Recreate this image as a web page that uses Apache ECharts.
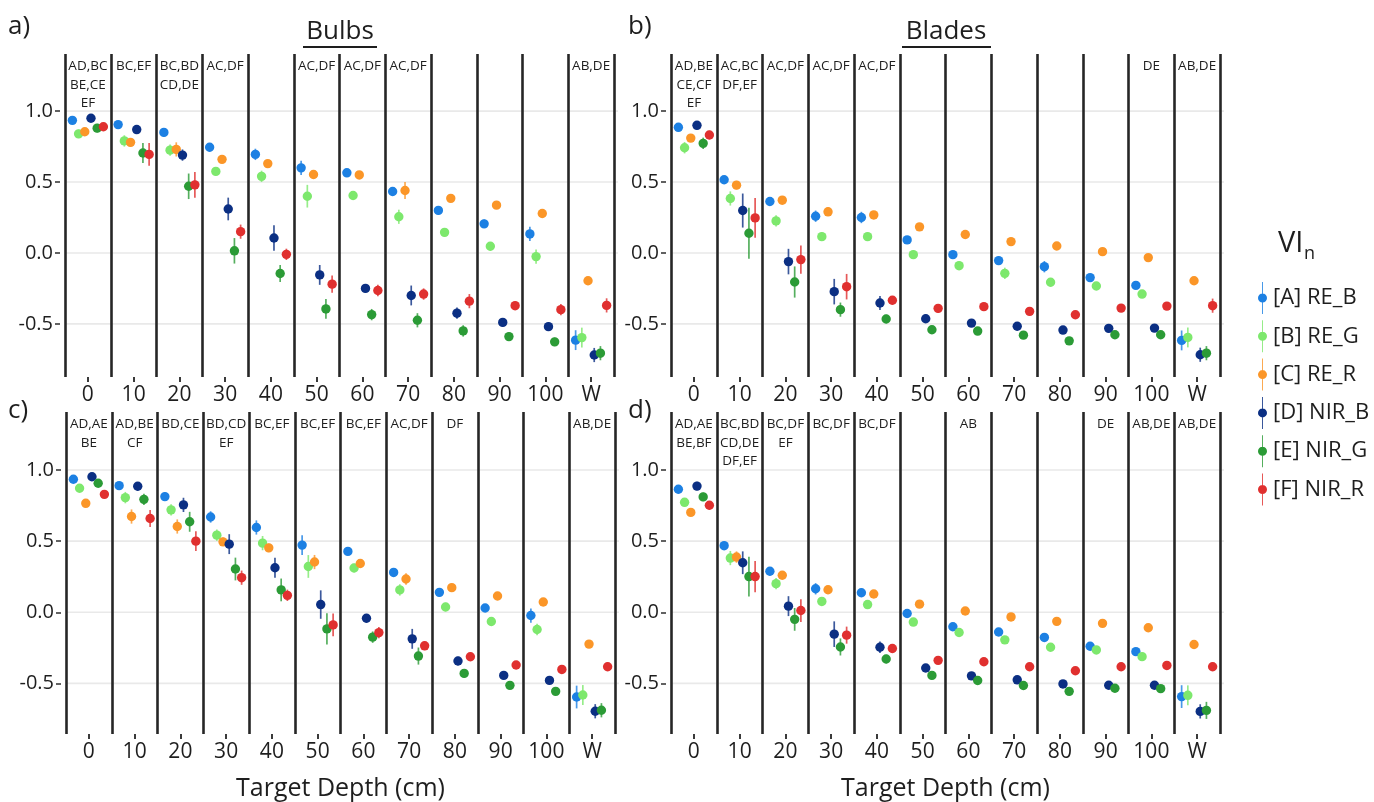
<!DOCTYPE html>
<html><head><meta charset="utf-8">
<script src="https://cdn.jsdelivr.net/npm/echarts@6/dist/echarts.min.js"></script>
<style>html,body{margin:0;padding:0;background:#fff}#c{width:1374px;height:802px}</style>
</head><body><div id="c"></div>
<script>
const depthLabels = ['0','10','20','30','40','50','60','70','80','90','100','W'];
const seriesNames = ['[A] RE_B','[B] RE_G','[C] RE_R','[D] NIR_B','[E] NIR_G','[F] NIR_R'];
const yTickValues = [-0.5, 0, 0.5, 1.0];

// a) Bulbs (top row)
const a_RE_B  = [0.935,0.905,0.85,0.745,0.695,0.60,0.565,0.433,0.30,0.205,0.134,-0.615];
const a_RE_G  = [0.84,0.79,0.725,0.575,0.54,0.40,0.405,0.255,0.145,0.047,-0.026,-0.597];
const a_RE_R  = [0.855,0.78,0.73,0.66,0.63,0.553,0.55,0.44,0.385,0.337,0.278,-0.196];
const a_NIR_B = [0.95,0.87,0.69,0.31,0.105,-0.155,-0.25,-0.30,-0.425,-0.49,-0.52,-0.72];
const a_NIR_G = [0.88,0.705,0.47,0.015,-0.145,-0.395,-0.435,-0.475,-0.55,-0.59,-0.627,-0.707];
const a_NIR_R = [0.89,0.695,0.48,0.15,-0.01,-0.22,-0.265,-0.29,-0.34,-0.372,-0.40,-0.37];
const a_err_RE_B  = [0.02,0.02,0.03,0.03,0.04,0.05,0.02,0.03,0.03,0.03,0.05,0.07];
const a_err_RE_G  = [0.03,0.04,0.04,0.03,0.04,0.08,0.03,0.05,0.03,0.03,0.05,0.07];
const a_err_RE_R  = [0.02,0.03,0.05,0.02,0.02,0.03,0.02,0.06,0.02,0.02,0.03,0.02];
const a_err_NIR_B = [0.02,0.02,0.04,0.08,0.09,0.07,0.03,0.07,0.04,0.03,0.03,0.05];
const a_err_NIR_G = [0.03,0.07,0.09,0.09,0.06,0.07,0.04,0.05,0.04,0.03,0.03,0.05];
const a_err_NIR_R = [0.02,0.08,0.09,0.05,0.04,0.06,0.04,0.04,0.05,0.03,0.04,0.05];
const a_letters = ['AD,BC\nBE,CE\nEF','BC,EF','BC,BD\nCD,DE','AC,DF','','AC,DF','AC,DF','AC,DF','','','','AB,DE'];

// b) Blades (top row)
const b_RE_B  = [0.886,0.516,0.363,0.259,0.25,0.092,-0.012,-0.054,-0.097,-0.174,-0.229,-0.617];
const b_RE_G  = [0.742,0.384,0.226,0.115,0.115,-0.012,-0.09,-0.144,-0.207,-0.233,-0.29,-0.596];
const b_RE_R  = [0.81,0.478,0.372,0.29,0.268,0.184,0.13,0.08,0.049,0.009,-0.033,-0.196];
const b_NIR_B = [0.90,0.299,-0.061,-0.273,-0.353,-0.464,-0.495,-0.517,-0.544,-0.532,-0.53,-0.718];
const b_NIR_G = [0.773,0.139,-0.205,-0.40,-0.466,-0.542,-0.551,-0.58,-0.62,-0.577,-0.577,-0.707];
const b_NIR_R = [0.832,0.247,-0.047,-0.238,-0.334,-0.391,-0.379,-0.412,-0.436,-0.389,-0.375,-0.372];
const b_err_RE_B  = [0.03,0.02,0.03,0.04,0.04,0.02,0.02,0.03,0.04,0.02,0.02,0.07];
const b_err_RE_G  = [0.04,0.05,0.04,0.03,0.03,0.03,0.03,0.04,0.03,0.02,0.02,0.07];
const b_err_RE_R  = [0.02,0.03,0.02,0.03,0.02,0.02,0.02,0.02,0.02,0.02,0.02,0.02];
const b_err_NIR_B = [0.03,0.12,0.09,0.09,0.05,0.03,0.02,0.02,0.02,0.02,0.02,0.05];
const b_err_NIR_G = [0.04,0.18,0.11,0.05,0.03,0.02,0.02,0.02,0.02,0.02,0.02,0.05];
const b_err_NIR_R = [0.03,0.14,0.10,0.09,0.03,0.03,0.02,0.03,0.02,0.02,0.02,0.05];
const b_letters = ['AD,BE\nCE,CF\nEF','AC,BC\nDF,EF','AC,DF','AC,DF','AC,DF','','','','','','DE','AB,DE'];

// c) Bulbs (bottom row)
const c_RE_B  = [0.935,0.89,0.813,0.67,0.596,0.472,0.428,0.28,0.14,0.03,-0.023,-0.596];
const c_RE_G  = [0.872,0.806,0.72,0.542,0.486,0.322,0.311,0.157,0.037,-0.065,-0.121,-0.582];
const c_RE_R  = [0.766,0.673,0.603,0.495,0.453,0.353,0.343,0.234,0.173,0.114,0.072,-0.224];
const c_NIR_B = [0.953,0.886,0.755,0.479,0.313,0.054,-0.042,-0.187,-0.343,-0.444,-0.479,-0.696];
const c_NIR_G = [0.907,0.794,0.636,0.304,0.157,-0.117,-0.175,-0.308,-0.43,-0.514,-0.556,-0.689];
const c_NIR_R = [0.829,0.659,0.5,0.243,0.119,-0.089,-0.143,-0.236,-0.313,-0.371,-0.402,-0.383];
const c_err_RE_B  = [0.02,0.02,0.03,0.04,0.05,0.07,0.02,0.02,0.03,0.02,0.05,0.08];
const c_err_RE_G  = [0.02,0.04,0.04,0.04,0.05,0.08,0.03,0.04,0.03,0.03,0.04,0.07];
const c_err_RE_R  = [0.02,0.05,0.05,0.03,0.03,0.05,0.02,0.04,0.02,0.02,0.02,0.02];
const c_err_NIR_B = [0.02,0.03,0.05,0.07,0.07,0.10,0.03,0.07,0.03,0.02,0.02,0.05];
const c_err_NIR_G = [0.02,0.04,0.07,0.08,0.08,0.11,0.04,0.06,0.03,0.02,0.02,0.05];
const c_err_NIR_R = [0.02,0.06,0.07,0.05,0.04,0.08,0.04,0.03,0.03,0.02,0.02,0.03];
const c_letters = ['AD,AE\nBE','AD,BE\nCF','BD,CE','BD,CD\nEF','BC,EF','BC,EF','BC,EF','AC,DF','DF','','','AB,DE'];

// d) Blades (bottom row)
const d_RE_B  = [0.865,0.468,0.288,0.165,0.137,-0.009,-0.102,-0.139,-0.177,-0.239,-0.277,-0.593];
const d_RE_G  = [0.773,0.381,0.201,0.076,0.054,-0.069,-0.142,-0.194,-0.246,-0.265,-0.312,-0.584];
const d_RE_R  = [0.702,0.388,0.26,0.158,0.128,0.057,0.009,-0.033,-0.064,-0.078,-0.109,-0.227];
const d_NIR_B = [0.887,0.348,0.043,-0.154,-0.246,-0.392,-0.447,-0.475,-0.504,-0.513,-0.513,-0.697];
const d_NIR_G = [0.811,0.251,-0.05,-0.244,-0.329,-0.444,-0.48,-0.515,-0.556,-0.534,-0.537,-0.69];
const d_NIR_R = [0.752,0.251,0.012,-0.161,-0.255,-0.338,-0.348,-0.383,-0.411,-0.383,-0.374,-0.383];
const d_err_RE_B  = [0.03,0.03,0.03,0.04,0.03,0.02,0.02,0.02,0.02,0.02,0.02,0.08];
const d_err_RE_G  = [0.03,0.05,0.04,0.02,0.02,0.02,0.02,0.02,0.02,0.02,0.02,0.07];
const d_err_RE_R  = [0.02,0.04,0.02,0.02,0.02,0.02,0.02,0.02,0.02,0.02,0.02,0.02];
const d_err_NIR_B = [0.03,0.08,0.07,0.09,0.04,0.02,0.02,0.02,0.02,0.02,0.02,0.05];
const d_err_NIR_G = [0.03,0.14,0.08,0.06,0.03,0.02,0.02,0.02,0.02,0.02,0.02,0.06];
const d_err_NIR_R = [0.03,0.11,0.08,0.06,0.03,0.02,0.02,0.02,0.02,0.02,0.02,0.03];
const d_letters = ['AD,AE\nBE,BF','BC,BD\nCD,DE\nDF,EF','BC,DF\nEF','BC,DF','BC,DF','','AB','','','DE','AB,DE','AB,DE'];

const colors = ['#1c80e3','#7de86d','#fb9628','#0b2f83','#2b9b36','#e0302f'];
const FONT = '"Open Sans", "Noto Sans", sans-serif';
const TXT = '#1e1e1e';

const panels = [
  {vals:[a_RE_B,a_RE_G,a_RE_R,a_NIR_B,a_NIR_G,a_NIR_R], errs:[a_err_RE_B,a_err_RE_G,a_err_RE_R,a_err_NIR_B,a_err_NIR_G,a_err_NIR_R], letters:a_letters,
   grid:{left:65, top:54, width:549, height:323}, ymin:-0.875, ymax:1.403, name:''},
  {vals:[b_RE_B,b_RE_G,b_RE_R,b_NIR_B,b_NIR_G,b_NIR_R], errs:[b_err_RE_B,b_err_RE_G,b_err_RE_R,b_err_NIR_B,b_err_NIR_G,b_err_NIR_R], letters:b_letters,
   grid:{left:671, top:54, width:549, height:323}, ymin:-0.875, ymax:1.403, name:''},
  {vals:[c_RE_B,c_RE_G,c_RE_R,c_NIR_B,c_NIR_G,c_NIR_R], errs:[c_err_RE_B,c_err_RE_G,c_err_RE_R,c_err_NIR_B,c_err_NIR_G,c_err_NIR_R], letters:c_letters,
   grid:{left:66, top:412, width:549, height:323}, ymin:-0.856, ymax:1.408, name:'Target Depth (cm)'},
  {vals:[d_RE_B,d_RE_G,d_RE_R,d_NIR_B,d_NIR_G,d_NIR_R], errs:[d_err_RE_B,d_err_RE_G,d_err_RE_R,d_err_NIR_B,d_err_NIR_G,d_err_NIR_R], letters:d_letters,
   grid:{left:671, top:412, width:549, height:323}, ymin:-0.856, ymax:1.408, name:'Target Depth (cm)'}
];

const grids = [], xAxes = [], yAxes = [], series = [];
panels.forEach((p, pi) => {
  grids.push(Object.assign({containLabel:false}, p.grid));
  xAxes.push({
    type:'category', gridIndex:pi, data:depthLabels, boundaryGap:true, z:1, position:'bottom',
    axisLine:{show:false, onZero:false},
    axisTick:{show:true, alignWithLabel:true, interval:0, length:5, lineStyle:{color:'#3a3a3a', width:2}},
    axisLabel:{interval:0, fontSize:21, color:TXT, fontFamily:FONT, margin:8},
    splitLine:{show:true, interval:0, lineStyle:{color:'#262626', width:2.6}},
    name:p.name, nameLocation:'middle', nameGap:42,
    nameTextStyle:{fontSize:25, color:TXT, fontFamily:FONT}
  });
  yAxes.push({
    type:'value', gridIndex:pi, min:p.ymin, max:p.ymax, offset:5,
    axisLine:{show:false},
    axisTick:{show:true, customValues:yTickValues, length:5, lineStyle:{color:'#3a3a3a', width:1.6}},
    axisLabel:{customValues:yTickValues, formatter:v => v.toFixed(1), fontSize:20, color:TXT, fontFamily:FONT, margin:7},
    splitLine:{show:false}
  });
  // horizontal reference lines at the y tick values
  series.push({
    type:'custom', xAxisIndex:pi, yAxisIndex:pi, z:0, silent:true,
    data: yTickValues.map(v => [0, v]),
    renderItem:(params, api) => {
      const cs = params.coordSys;
      const y = api.coord([0, api.value(1)])[1];
      return {type:'line', shape:{x1:cs.x, y1:y, x2:cs.x + cs.width + 4, y2:y}, style:{stroke:'#e9e9e9', lineWidth:1.6}};
    }
  });
  // letters annotations
  series.push({
    type:'custom', xAxisIndex:pi, yAxisIndex:pi, z:3, silent:true,
    data: p.letters.map((t, i) => [i, 0]),
    renderItem:(params, api) => {
      const cs = params.coordSys;
      const x = api.coord([api.value(0), 0])[0];
      return {type:'text', style:{text:p.letters[params.dataIndex], x:x, y:cs.y + 3, align:'center', verticalAlign:'top',
        fontSize:13.5, lineHeight:18.5, fill:TXT, fontFamily:FONT}};
    }
  });
  p.vals.forEach((vals, k) => {
    const errs = p.errs[k];
    const col = colors[k];
    series.push({
      name:seriesNames[k], type:'custom', xAxisIndex:pi, yAxisIndex:pi, z:4,
      itemStyle:{color:col},
      encode:{x:0, y:1},
      data: vals.map((v, i) => [i, v, errs[i]]),
      renderItem:(params, api) => {
        const i = api.value(0), v = api.value(1), e = api.value(2);
        const bw = api.size([1, 0])[0];
        const off = (k - 2.5) * 0.1355 * bw;
        const c = api.coord([i, v]);
        const t = api.coord([i, v + e]);
        const b = api.coord([i, v - e]);
        const x = c[0] + off;
        return {type:'group', children:[
          {type:'line', shape:{x1:x, y1:t[1], x2:x, y2:b[1]}, style:{stroke:col, lineWidth:1.7, opacity:0.8}},
          {type:'circle', shape:{cx:x, cy:c[1], r:4.7}, style:{fill:col}}
        ]};
      }
    });
  });
});

const legendIcon = 'path://M4.1,0 L4.9,0 L4.9,12 L4.1,12 Z M4.1,20 L4.9,20 L4.9,32 L4.1,32 Z M0,16 A4.5,4.5 0 1 1 9,16 A4.5,4.5 0 1 1 0,16 Z';

const option = {
  backgroundColor:'#fff',
  animation:false,
  grid:grids, xAxis:xAxes, yAxis:yAxes, series:series,
  legend:{
    data:seriesNames, orient:'vertical', left:1253, top:277, itemWidth:9, itemHeight:32, itemGap:6.3,
    icon:legendIcon, selectedMode:false,
    textStyle:{fontSize:22, color:TXT, fontFamily:FONT, padding:[0,0,0,1]}
  },
  graphic:[
    {type:'text', left:8, top:14, style:{text:'a)', fontSize:26, fill:TXT, fontFamily:FONT}},
    {type:'text', left:628, top:14, style:{text:'b)', fontSize:26, fill:TXT, fontFamily:FONT}},
    {type:'text', left:8, top:398, style:{text:'c)', fontSize:26, fill:TXT, fontFamily:FONT}},
    {type:'text', left:628, top:398, style:{text:'d)', fontSize:26, fill:TXT, fontFamily:FONT}},
    {type:'text', x:340, y:32, style:{text:'Bulbs', fontSize:26, fill:TXT, fontFamily:FONT, align:'center', verticalAlign:'middle'}},
    {type:'line', shape:{x1:303, y1:47, x2:377, y2:47}, style:{stroke:TXT, lineWidth:2}},
    {type:'text', x:946, y:32, style:{text:'Blades', fontSize:26, fill:TXT, fontFamily:FONT, align:'center', verticalAlign:'middle'}},
    {type:'line', shape:{x1:902, y1:47, x2:991, y2:47}, style:{stroke:TXT, lineWidth:2}},
    {type:'text', x:1278, y:229, style:{text:'VI', fontSize:29, fill:TXT, fontFamily:FONT}},
    {type:'text', x:1304, y:245, style:{text:'n', fontSize:18, fill:TXT, fontFamily:FONT}}
  ]
};

const chart = echarts.init(document.getElementById('c'), null, {renderer:'canvas'});
chart.setOption(option);
</script>
</body></html>
